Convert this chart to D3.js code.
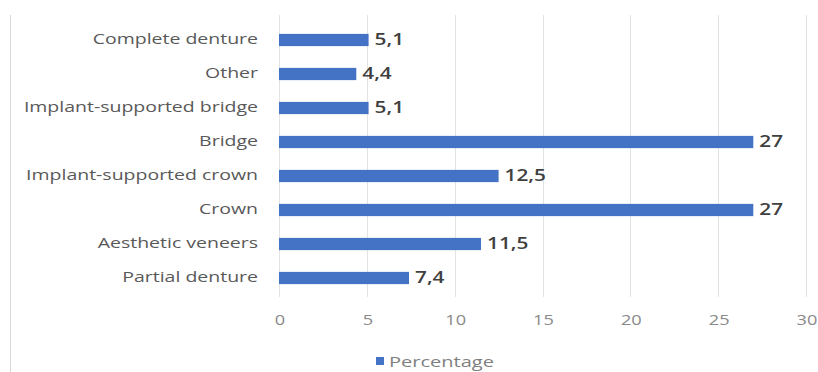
<!DOCTYPE html>
<html>
<head>
<meta charset="utf-8">
<script src="https://cdn.jsdelivr.net/npm/d3@7"></script>
<style>
  body { margin: 0; background: #fff; }
  svg { display: block; }
</style>
</head>
<body>
<div id="chart"></div>
<script>
const width = 818
const height = 372

// Categories top to bottom, values in percent
const categories = ["Complete denture", "Other", "Implant-supported bridge", "Bridge",
  "Implant-supported crown", "Crown", "Aesthetic veneers", "Partial denture"]
const values = [5.1, 4.4, 5.1, 27, 12.5, 27, 11.5, 7.4]
const valueLabels = ["5,1", "4,4", "5,1", "27", "12,5", "27", "11,5", "7,4"]
const ticks = [0, 5, 10, 15, 20, 25, 30]
const seriesName = "Percentage"

const data = categories.map((c, i) => ({ name: c, value: values[i], label: valueLabels[i] }))

const margin = { top: 23, right: 12, bottom: 77, left: 279 }
// the source picture is stretched sideways, so text is widened to match
const stretch = 1.3
const at = (px, py, k = stretch) => `translate(${px},${py}) scale(${k},1)`

const svg = d3.select("#chart")
  .append("svg")
    .attr("width", width)
    .attr("height", height)
    .style("font-family", "'Open Sans', sans-serif")

// thin frame line on the left, like the cropped chart border
svg.append("line")
  .attr("x1", 10.5).attr("x2", 10.5)
  .attr("y1", 15).attr("y2", height)
  .attr("stroke", "#d9d9d9")

const x = d3.scaleLinear()
  .domain([0, 30])
  .range([margin.left, 806])

const y = d3.scaleBand()
  .domain(categories)
  .range([margin.top, height - margin.bottom])
  .paddingInner(0.64)
  .paddingOuter(0.32)

// vertical gridlines
svg.append("g")
  .selectAll("line")
  .data(ticks)
  .join("line")
    .attr("x1", d => Math.round(x(d)) + 0.5)
    .attr("x2", d => Math.round(x(d)) + 0.5)
    .attr("y1", 15)
    .attr("y2", 297)
    .attr("stroke", "#e3e3e3")

// x tick labels
svg.append("g")
  .attr("fill", "#8a8a8a")
  .attr("font-size", 14)
  .attr("text-anchor", "middle")
  .selectAll("text")
  .data(ticks)
  .join("text")
    .attr("transform", d => at(x(d) + 1, 325))
    .text(d => d)

// bars
svg.append("g")
  .selectAll("rect")
  .data(data)
  .join("rect")
    .attr("x", x(0))
    .attr("y", d => y(d.name))
    .attr("width", d => x(d.value) - x(0))
    .attr("height", y.bandwidth())
    .attr("fill", "#4472c4")

// category labels
svg.append("g")
  .attr("fill", "#595959")
  .attr("font-size", 15)
  .attr("text-anchor", "end")
  .attr("dominant-baseline", "middle")
  .selectAll("text")
  .data(data)
  .join("text")
    .attr("transform", d => at(258, y(d.name) + y.bandwidth() / 2))
    .text(d => d.name)

// value labels
svg.append("g")
  .attr("fill", "#404040")
  .attr("font-size", 16)
  .attr("font-weight", 600)
  .attr("dominant-baseline", "middle")
  .selectAll("text")
  .data(data)
  .join("text")
    .attr("transform", d => at(x(d.value) + 6, y(d.name) + y.bandwidth() / 2 + 1))
    .text(d => d.label)

// legend
const legend = svg.append("g")
legend.append("rect")
  .attr("x", 376).attr("y", 357)
  .attr("width", 8).attr("height", 8)
  .attr("fill", "#4472c4")
legend.append("text")
  .attr("transform", at(389, 367, 1.38))
  .attr("fill", "#7f7f7f")
  .attr("font-size", 14.5)
  .text(seriesName)
</script>
</body>
</html>
